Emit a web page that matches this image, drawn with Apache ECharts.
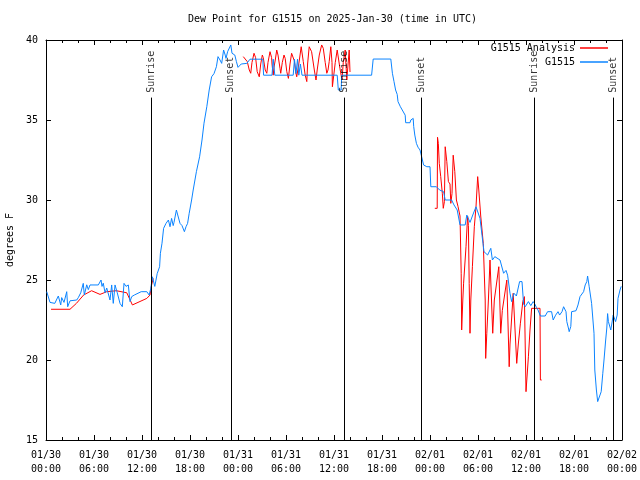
<!DOCTYPE html>
<html>
<head>
<meta charset="utf-8">
<script src="https://cdn.jsdelivr.net/npm/echarts@6/dist/echarts.min.js"></script>
<style>
html,body{margin:0;padding:0;background:#fff;}
#chart{width:640px;height:480px;}
</style>
</head>
<body>
<div id="chart"></div>
<script>
// Hours since 2025-01-30 00:00 UTC
var xTickLabels = ['01/30\n00:00','01/30\n06:00','01/30\n12:00','01/30\n18:00','01/31\n00:00','01/31\n06:00','01/31\n12:00','01/31\n18:00','02/01\n00:00','02/01\n06:00','02/01\n12:00','02/01\n18:00','02/02\n00:00'];

var obsHours = [0.09,0.5,1.1,1.54,1.84,1.96,2.25,2.59,2.71,3.0,3.21,3.84,4.04,4.34,4.66,4.79,5.09,5.29,5.5,6.54,6.88,7.0,7.16,7.38,7.59,8.0,8.21,8.41,8.63,8.91,9.04,9.25,9.54,9.75,10.0,10.29,10.5,10.71,11.04,11.9,12.6,12.8,12.9,13.1,13.3,13.4,13.6,13.9,14.2,14.3,14.5,14.7,15.0,15.3,15.5,15.7,15.9,16.0,16.3,16.5,16.75,17.0,17.3,17.5,17.7,17.9,18.2,18.4,18.8,19.2,19.5,19.75,20.1,20.4,20.7,21.0,21.3,21.5,21.75,21.96,22.2,22.4,22.5,22.7,22.9,23.1,23.25,23.6,23.8,24.0,24.4,24.5,25.1,25.5,27.1,27.2,28.25,28.4,28.6,30.9,31.06,31.25,31.44,31.6,31.8,32.0,36.4,36.54,36.9,36.96,40.7,40.9,43.1,43.3,43.5,43.7,43.9,44.0,44.3,44.5,44.9,44.96,45.5,45.6,45.9,45.96,46.1,46.3,46.5,46.75,46.96,47.2,47.6,48.0,48.1,48.8,49.2,49.7,49.9,50.7,51.0,51.4,51.75,52.4,52.6,53.0,53.3,53.75,54.0,54.25,54.5,54.75,55.2,55.6,55.8,56.1,56.75,57.2,57.5,57.7,58.0,58.2,58.5,58.8,59.2,59.5,59.7,59.9,60.3,60.6,60.9,61.1,61.3,61.5,61.8,62.4,62.7,63.2,63.4,63.7,64.0,64.2,64.4,64.5,64.7,65.0,65.1,65.3,65.4,65.6,65.7,66.25,66.5,66.75,67.0,67.2,67.4,67.6,67.7,67.9,68.2,68.5,68.6,68.8,68.96,69.2,69.4,69.6,69.75,69.96,70.1,70.2,70.3,70.5,70.6,70.9,71.2,71.4,71.5,71.75,71.9];
var obsValues = [24.27,23.6,23.54,24.0,23.44,23.9,23.6,24.27,23.33,23.7,23.8,23.75,23.9,24.2,24.79,24.06,24.7,24.4,24.69,24.69,25.0,24.6,24.8,24.2,24.5,23.75,24.69,23.54,24.69,24.2,24.27,23.54,23.33,24.79,24.6,24.69,23.65,23.96,24.06,24.27,24.27,24.38,24.06,24.48,25.2,25.3,24.6,25.4,25.83,26.67,27.3,28.23,28.54,28.75,28.33,28.85,28.4,28.6,29.375,29.0,28.54,28.4,28.02,28.33,28.54,29.17,30.0,30.625,31.77,32.7,33.75,34.8,35.83,36.875,37.7,37.9,38.33,38.96,38.75,38.54,39.375,39.06,38.85,39.27,39.375,39.69,39.17,39.06,38.65,38.29,38.5,38.45,38.54,38.8,38.8,37.8,37.8,38.8,37.8,37.8,38.8,37.9,38.8,37.8,38.5,37.8,37.8,36.875,36.875,37.8,37.8,38.81,38.81,37.92,37.4,36.875,36.6,36.15,35.83,35.73,35.3,34.83,34.83,35.0,35.1,34.6,34.06,33.54,33.3,33.125,32.7,32.19,32.08,32.08,30.83,30.83,30.625,30.52,30.0,30.0,29.69,29.375,28.44,28.44,29.06,28.6,29.0,29.58,29.5,28.85,27.8,26.77,26.56,26.98,26.25,26.46,26.25,25.42,25.6,25.3,24.17,23.65,24.17,24.0,24.9,24.9,23.5,23.33,23.65,23.4,23.65,23.5,23.29,23.125,22.75,22.75,23.02,23.02,22.5,22.8,23.02,22.81,22.7,23.02,23.33,23.02,22.4,22.0,21.77,22.1,23.02,23.08,23.44,23.96,23.85,24.27,24.69,24.9,25.25,24.58,23.54,21.67,19.375,18.125,17.4,17.4,18.02,19.17,20.0,21.25,22.0,22.9,22.4,22.5,21.875,22.81,22.4,22.81,23.85,24.375,24.6];

var anaHours = [0.63,3.0,3.8,4.7,5.7,6.75,7.6,8.8,10.1,10.8,11.5,12.6,13.0,13.2,13.4,
  19.0,
  24.66,24.88,25.16,25.41,25.59,25.75,26.0,26.2,26.4,26.66,26.84,27.04,27.16,27.4,27.6,27.75,28.0,28.2,28.25,28.4,28.5,28.66,28.84,29.0,29.25,29.34,29.54,29.75,29.9,30.1,30.3,30.5,30.7,30.84,31.04,31.2,31.34,31.6,31.9,32.0,32.16,32.4,32.6,32.7,32.9,33.1,33.2,33.54,33.75,33.9,34.16,34.46,34.66,34.9,35.1,35.25,35.4,35.6,35.75,35.8,35.9,36.16,36.4,36.6,36.75,37.0,37.16,37.4,37.6,37.7,37.9,38.0,
  43.0,
  48.6,48.9,48.94,49.04,49.16,49.34,49.54,49.66,49.8,49.9,50.1,50.3,50.5,50.6,50.75,50.9,51.1,51.3,51.5,51.75,51.9,51.96,52.1,52.2,52.5,52.7,52.8,52.9,53.0,53.1,53.3,53.54,53.75,53.96,54.1,54.34,54.66,54.9,54.96,55.1,55.3,55.5,55.84,56.04,56.6,56.84,57.04,57.6,57.9,58.0,58.4,58.84,59.04,59.3,59.6,59.8,59.9,60.0,60.3,60.5,60.7,61.75,61.8,61.96];
var anaValues = [23.17,23.17,23.54,24.06,24.33,24.1,24.27,24.33,24.2,23.44,23.6,23.85,24.06,24.69,25.1,
  null,
  38.96,39.06,38.65,38.125,37.92,38.6,39.17,38.9,38.02,37.7,38.5,39.06,38.9,38.125,37.92,38.6,39.27,38.9,38.5,37.8,38.3,38.75,39.375,39.06,38.23,37.92,38.6,39.06,38.85,38.02,37.6,38.5,39.17,39.27,38.7,38.02,37.7,38.5,39.58,39.69,38.65,37.8,37.4,38.5,39.58,39.69,39.27,38.125,37.5,38.125,39.06,39.69,39.48,38.6,37.92,38.125,38.65,39.58,38.6,37.08,37.5,38.6,39.375,39.27,38.2,37.5,38.6,39.375,37.5,38.125,39.375,38.0,
  null,
  29.48,29.48,33.92,33.54,32.29,31.46,30.42,29.48,29.9,33.33,32.4,31.15,31.0,29.79,30.4,32.8,31.77,30.0,29.6,29.0,25.42,21.875,23.75,24.8,27.08,29.0,28.4,24.79,21.67,23.75,25.83,28.33,29.58,31.46,30.625,29.0,27.29,23.75,20.1,21.67,23.75,26.25,21.67,23.75,25.83,21.67,23.1,25.0,19.58,21.0,24.17,19.79,21.0,22.3,23.65,23.96,21.0,18.02,20.2,21.875,23.23,23.23,18.75,18.75];

var eventHours = [13.2, 23.1, 37.25, 46.96, 61.04, 70.9];
var eventNames = ['Sunrise','Sunset','Sunrise','Sunset','Sunrise','Sunset'];
var eventLineTop = 36.4;
var eventLabelBase = 36.7;

var FONT = 'DejaVu Sans Mono';
function pairs(h, v){ return h.map(function(x,i){ return [x, v[i] === null ? '-' : v[i]]; }); }

var chart = echarts.init(document.getElementById('chart'), null, {renderer:'canvas'});
var axisCommon = {
  type:'value', min:0, max:72, interval:6,
  axisLine:{show:true, onZero:false, lineStyle:{color:'#000', width:1}},
  axisTick:{show:true, inside:true, length:5, lineStyle:{color:'#000'}},
  minorTick:{show:true, splitNumber:3, length:3, lineStyle:{color:'#000'}},
  splitLine:{show:false}
};
var yCommon = {
  type:'value', min:15, max:40, interval:5,
  axisLine:{show:true, onZero:false, lineStyle:{color:'#000', width:1}},
  axisTick:{show:true, inside:true, length:5, lineStyle:{color:'#000'}},
  splitLine:{show:false}
};
var option = {
  animation:false,
  backgroundColor:'#fff',
  title:{text:'Dew Point for G1515 on 2025-Jan-30 (time in UTC)', left:188, top:14, padding:0,
    textStyle:{fontFamily:FONT, fontSize:10, fontWeight:'normal', color:'#000'}},
  legend:[
    {data:['G1515 Analysis'], orient:'vertical', right:32, top:43, align:'right', icon:'rect', itemWidth:28, itemHeight:1.5, padding:0,
      textStyle:{fontFamily:FONT, fontSize:10, color:'#000'}},
    {data:['G1515'], orient:'vertical', right:32, top:57, align:'right', icon:'rect', itemWidth:28, itemHeight:1.5, padding:0,
      textStyle:{fontFamily:FONT, fontSize:10, color:'#000'}}
  ],
  grid:{left:46, top:40, width:576, height:400, containLabel:false, outerBoundsMode:'none'},
  xAxis:[
    Object.assign({}, axisCommon, {position:'bottom',
      axisLabel:{show:true, margin:8, fontFamily:FONT, fontSize:10, color:'#000', lineHeight:14,
        formatter:function(v){ return xTickLabels[Math.round(v/6)]; }}}),
    Object.assign({}, axisCommon, {position:'top', axisLabel:{show:false}})
  ],
  yAxis:[
    Object.assign({}, yCommon, {position:'left', name:'degrees F', nameLocation:'middle', nameGap:30, nameRotate:90,
      nameTextStyle:{fontFamily:FONT, fontSize:10, color:'#000'},
      axisLabel:{show:true, margin:8, fontFamily:FONT, fontSize:10, color:'#000'}}),
    Object.assign({}, yCommon, {position:'right', axisLabel:{show:false}})
  ],
  series:[
    {name:'G1515 Analysis', type:'line', data:pairs(anaHours, anaValues), showSymbol:false, symbol:'none',
      color:'#ff0000', lineStyle:{width:1, color:'#ff0000'}, connectNulls:false, z:3},
    {name:'G1515', type:'line', data:pairs(obsHours, obsValues), showSymbol:false, symbol:'none',
      color:'#0b84ff', lineStyle:{width:1, color:'#0b84ff'}, z:4},
    {name:'events', type:'scatter', symbolSize:0, silent:true, z:5,
      data:eventHours.map(function(h,i){ return {value:[h, eventLabelBase], name:eventNames[i]}; }),
      label:{show:true, position:'inside', align:'left', verticalAlign:'middle', rotate:90,
        formatter:function(p){ return p.name; }, fontFamily:FONT, fontSize:10, color:'#000'},
      markLine:{silent:true, symbol:['none','none'], label:{show:false},
        lineStyle:{color:'#000', width:1, type:'solid'},
        data:eventHours.map(function(h){ return [{coord:[h,15]},{coord:[h,eventLineTop]}]; })}
    }
  ]
};
chart.setOption(option);
</script>
</body>
</html>
